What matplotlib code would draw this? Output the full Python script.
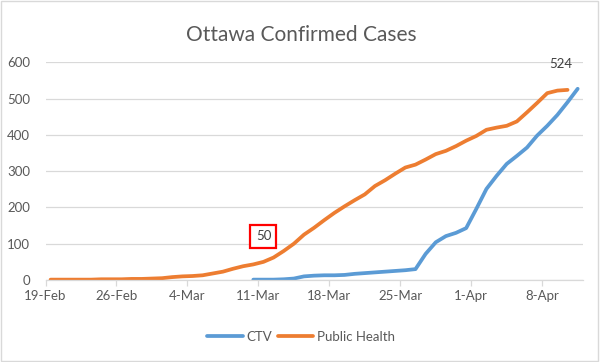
import matplotlib
matplotlib.use("Agg")
import matplotlib.pyplot as plt
from matplotlib.patches import Rectangle
import numpy as np

plt.rcParams['font.family'] = ['Lato', 'DejaVu Sans']

# day 0 = 19-Feb (2020)
tick_labels = ['19-Feb', '26-Feb', '4-Mar', '11-Mar', '18-Mar', '25-Mar', '1-Apr', '8-Apr']
n_days = 53

public_health = [1, 1, 1, 1, 1, 2, 2, 2, 3, 3, 4, 5, 8, 10, 11, 13, 18, 23, 31, 38,
                 43, 50, 62, 80, 100, 125, 144, 165, 185, 203, 220, 236, 259, 275, 293,
                 310, 318, 332, 347, 356, 369, 384, 397, 414, 420, 425, 437, 462, 488,
                 515, 522, 524]
ctv_first_day = 20  # 10-Mar
ctv = [1, 1, 1, 2, 4, 10, 12, 13, 13, 14, 17, 19, 21, 23, 25, 27, 30, 72, 104, 121,
       130, 143, 196, 251, 287, 320, 342, 365, 398, 425, 455, 490, 527]

blue = '#5B9BD5'
orange = '#ED7D31'
grey_txt = '#595959'

fig = plt.figure(figsize=(6.02, 3.62), dpi=100)
ax = fig.add_axes([0.0756, 0.2265, 0.8924, 0.6014])

ph_x = np.arange(len(public_health)) + 0.5
ctv_x = np.arange(len(ctv)) + ctv_first_day + 0.5
ax.plot(ctv_x, ctv, color=blue, lw=2.7, solid_capstyle='round', label='CTV')
ax.plot(ph_x, public_health, color=orange, lw=2.7, solid_capstyle='round', label='Public Health')

ax.set_xlim(0, n_days)
ax.set_ylim(0, 600)
ax.set_yticks(range(0, 601, 100))
ax.set_xticks(range(0, 7 * len(tick_labels), 7))
ax.set_xticklabels(tick_labels)
ax.grid(axis='y', color='#D9D9D9', lw=0.9)
ax.set_axisbelow(True)
for s in ['top', 'right', 'left']:
    ax.spines[s].set_visible(False)
ax.spines['bottom'].set_color('#D9D9D9')
ax.spines['bottom'].set_linewidth(0.9)
ax.tick_params(axis='y', length=0, pad=11, labelsize=9.5, labelcolor=grey_txt)
ax.tick_params(axis='x', length=4, width=0.9, color='#D9D9D9', pad=3,
               labelsize=9.5, labelcolor=grey_txt)

# data labels
ax.annotate(str(public_health[-1]), (ph_x[-1], public_health[-1]), xytext=(-5, 14),
            textcoords='offset points', ha='center', va='bottom', fontsize=9.5, color='#404040')
i50 = public_health.index(50)
ax.annotate('50', (ph_x[i50], public_health[i50]), xytext=(0, 14),
            textcoords='offset points', ha='center', va='bottom', fontsize=9.5, color='#404040',
            bbox=dict(boxstyle='square,pad=0.4', fc='white', ec='#FF0000', lw=1.6))

fig.suptitle('Ottawa Confirmed Cases', y=0.93, fontsize=15, color=grey_txt)
fig.legend(loc='center', bbox_to_anchor=(0.5, 0.069), ncol=2, frameon=False,
           fontsize=9.5, labelcolor=grey_txt, handlelength=2.7, handletextpad=0.3,
           columnspacing=0.4)

fig.patches.append(Rectangle((0.002, 0.003), 0.991, 0.994, transform=fig.transFigure,
                             fill=False, ec='#D9D9D9', lw=1))

fig.savefig('out.png', dpi=100)
